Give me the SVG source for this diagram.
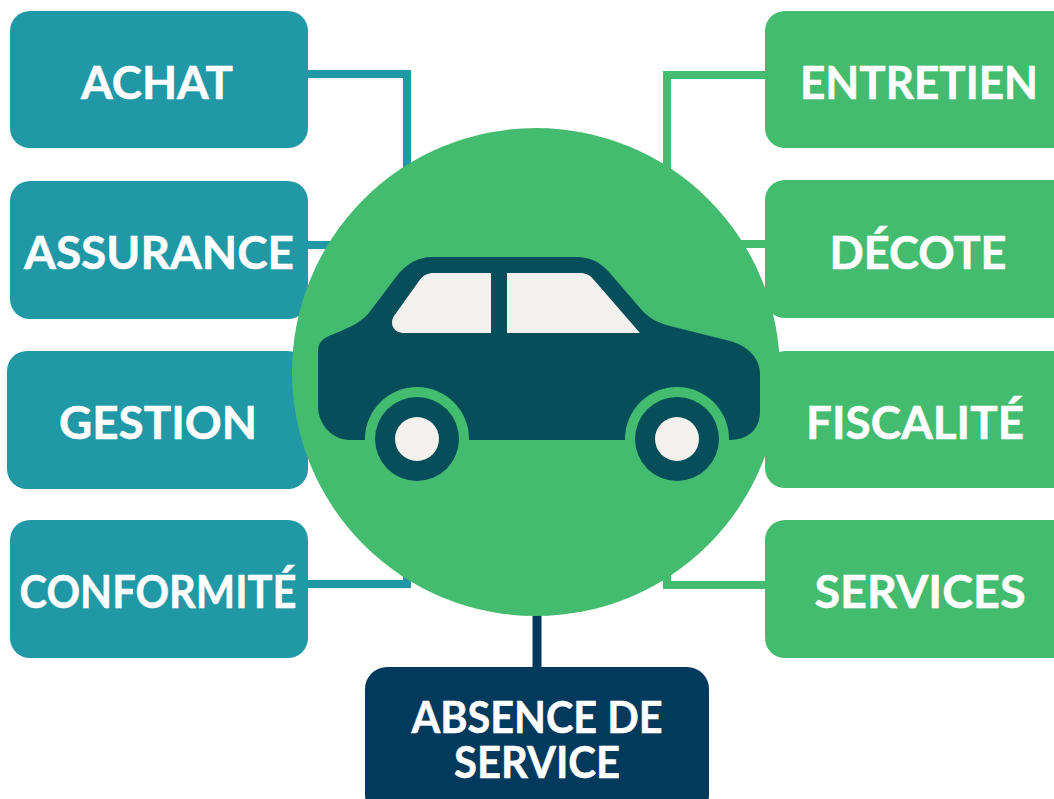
<svg xmlns="http://www.w3.org/2000/svg" width="1054" height="799" viewBox="0 0 1054 799">
<style>
.l{fill:none;stroke-width:8;stroke-linejoin:miter}
.t{fill:#2098a6}.g{fill:#43bc6f}.n{fill:#023a5e}
text{font-family:"Lato","Noto Sans","Liberation Sans",sans-serif;font-weight:700;font-size:46px;fill:#fff;stroke:#fff;stroke-width:.5px;text-anchor:middle}
</style>
<rect width="1054" height="799" fill="#fff"/>
<g id="connectors">
<path class="l" stroke="#2098a6" d="M300 74H407V175"/>
<path class="l" stroke="#2098a6" d="M300 245H340"/>
<path class="l" stroke="#2098a6" d="M300 584H407V565"/>
<path class="l" stroke="#43bc6f" d="M775 75H667V175"/>
<path class="l" stroke="#43bc6f" d="M775 244H735"/>
<path class="l" stroke="#43bc6f" d="M775 585H667V570"/>
<path class="l" stroke="#023a5e" style="stroke-width:9" d="M537 605V675"/>
</g>
<g id="achat"><rect class="t" x="10" y="11" width="298" height="137" rx="20"/><text x="157" y="99" textLength="152" lengthAdjust="spacingAndGlyphs">ACHAT</text></g>
<g id="assurance"><rect class="t" x="10" y="181" width="298" height="138" rx="20"/><text x="159" y="269" textLength="270" lengthAdjust="spacingAndGlyphs">ASSURANCE</text></g>
<g id="gestion"><rect class="t" x="7" y="351" width="301" height="138" rx="20"/><text x="158" y="439" textLength="198" lengthAdjust="spacingAndGlyphs">GESTION</text></g>
<g id="conformite"><rect class="t" x="10" y="520" width="298" height="138" rx="20"/><text x="158" y="608" textLength="277" lengthAdjust="spacingAndGlyphs">CONFORMITÉ</text></g>
<g id="entretien"><rect class="g" x="765" y="11" width="310" height="137" rx="20"/><text x="919" y="99" textLength="238" lengthAdjust="spacingAndGlyphs">ENTRETIEN</text></g>
<g id="decote"><rect class="g" x="765" y="180" width="310" height="138" rx="20"/><text x="918" y="269" textLength="177" lengthAdjust="spacingAndGlyphs">DÉCOTE</text></g>
<g id="fiscalite"><rect class="g" x="765" y="351" width="310" height="137" rx="20"/><text x="915" y="439" textLength="218" lengthAdjust="spacingAndGlyphs">FISCALITÉ</text></g>
<g id="services"><rect class="g" x="765" y="520" width="310" height="138" rx="20"/><text x="920" y="608" textLength="211" lengthAdjust="spacingAndGlyphs">SERVICES</text></g>
<g id="absence"><rect class="n" x="365" y="667" width="344" height="150" rx="22"/><text x="537" y="733" style="font-size:44px" textLength="251" lengthAdjust="spacingAndGlyphs">ABSENCE DE</text><text x="537" y="778" style="font-size:44px" textLength="166" lengthAdjust="spacingAndGlyphs">SERVICE</text></g>
<g id="car">
<circle class="g" cx="536" cy="372" r="244"/>
<path fill="#054e5a" d="M318 352C318 343 322 339 329 336C345 329 358 325 368 314L396 277C407 263 418 257 432 257H576C590 257 600 262 609 272L640 308C648 318 658 323 670 326L730 341C748 346 760 358 760 374V412C760 429 748 440 730 440H350C332 440 318 424 318 406Z"/>
<circle class="g" cx="417" cy="439" r="52"/>
<circle class="g" cx="677" cy="439" r="52"/>
<rect class="g" x="360" y="440" width="120" height="55"/>
<rect class="g" x="620" y="440" width="120" height="55"/>
<circle fill="#054e5a" cx="417" cy="439" r="42"/>
<circle fill="#054e5a" cx="677" cy="439" r="42"/>
<circle fill="#f2f1ed" cx="417" cy="439" r="22"/>
<circle fill="#f2f1ed" cx="677" cy="439" r="22"/>
<path fill="#f2f1ed" d="M491 273V333H404C394 333 389 324 394 316L419 281C423 275 428 273 434 273Z"/>
<path fill="#f2f1ed" d="M507 273H580C586 273 590 275 594 280L640 333H507Z"/>
</g>
</svg>
